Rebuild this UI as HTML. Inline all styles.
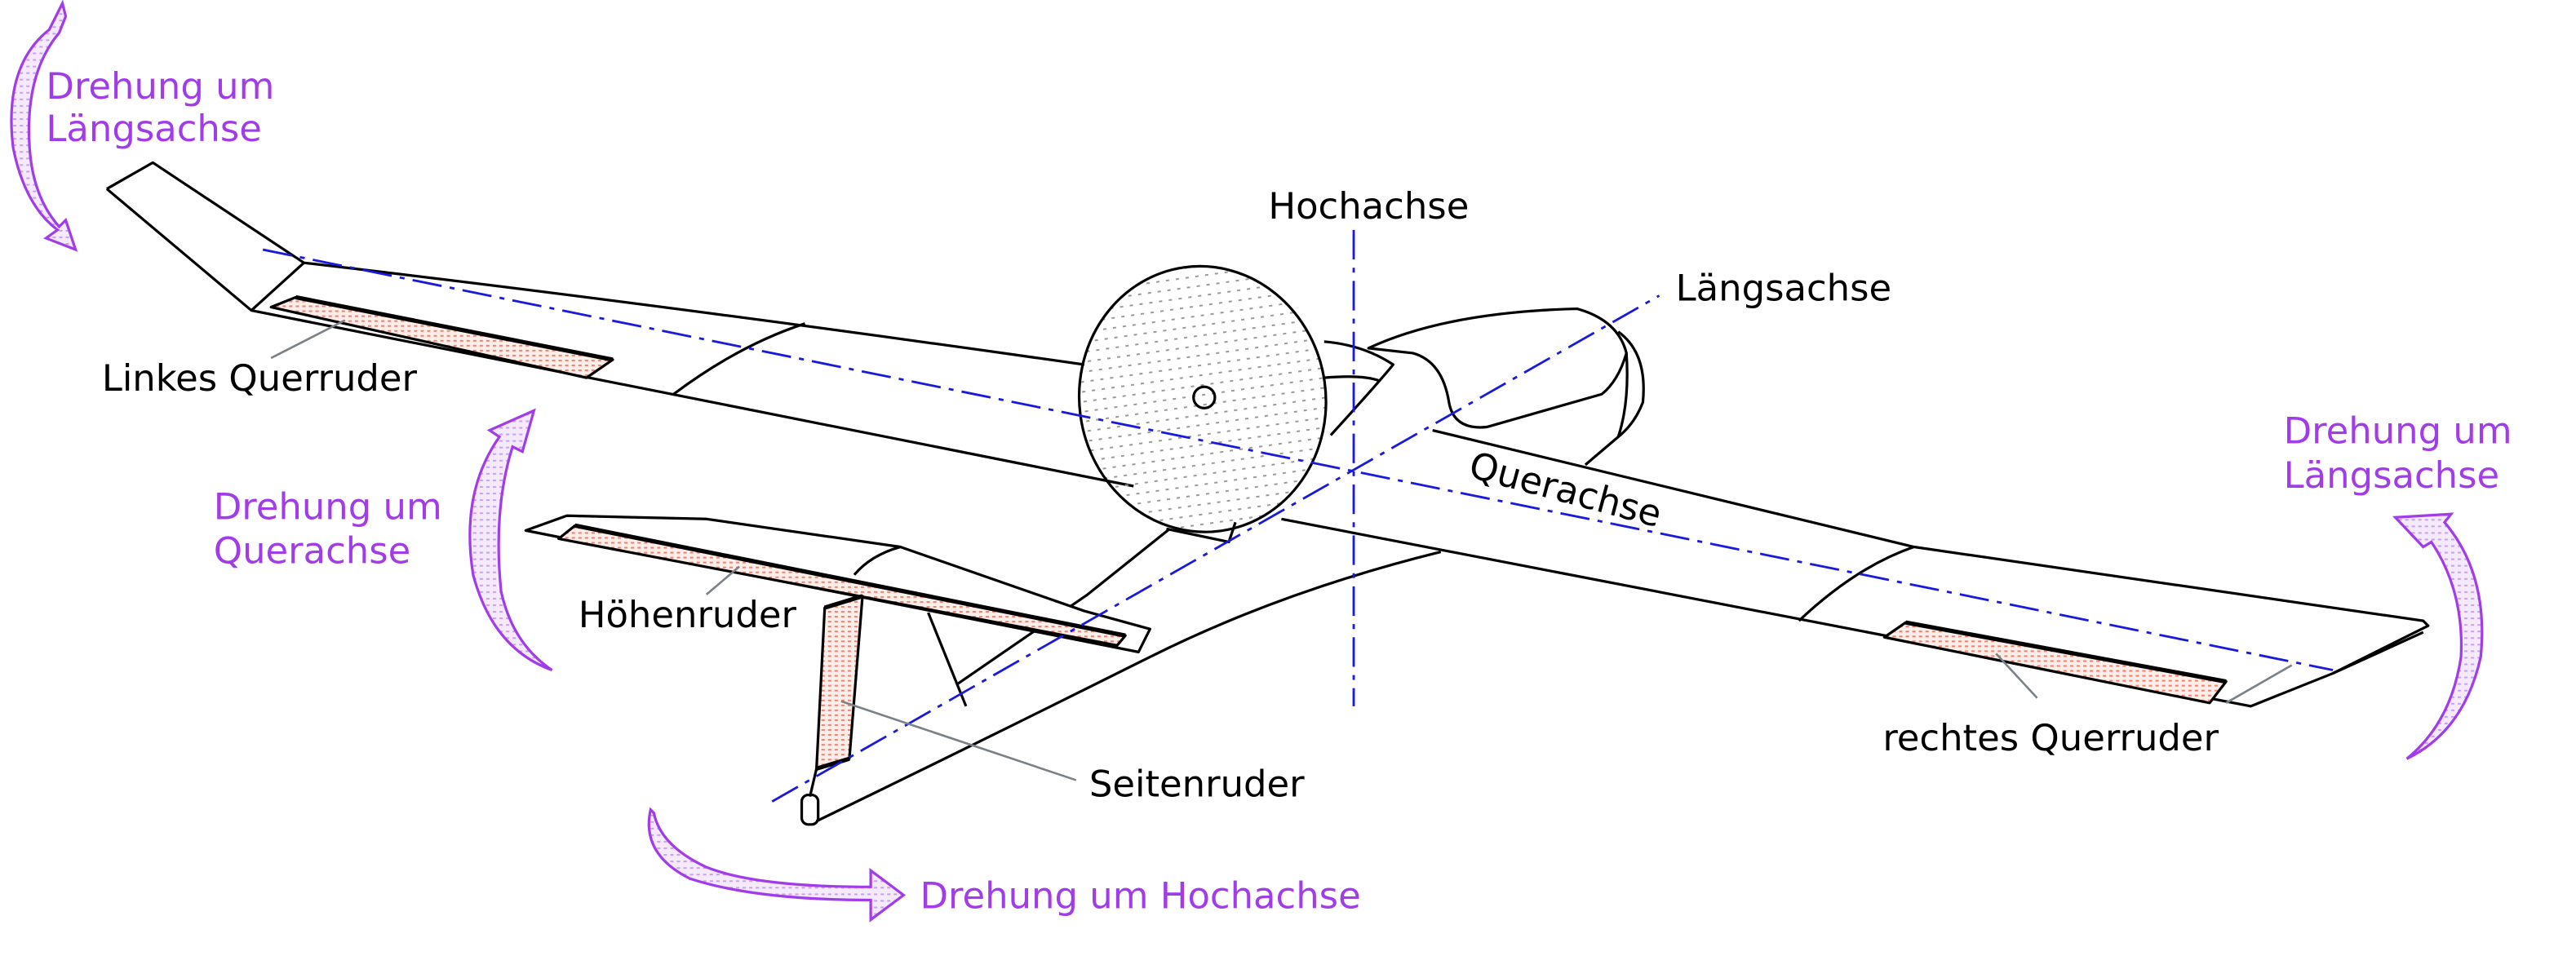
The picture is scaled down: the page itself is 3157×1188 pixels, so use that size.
<!DOCTYPE html>
<html><head><meta charset="utf-8"><style>
html,body{margin:0;padding:0;background:#fff}
svg{display:block}
text{font-family:"DejaVu Sans","Liberation Sans",sans-serif;font-size:22.3px}
.p{fill:#a03ce8}
</style></head><body>
<svg width="3157" height="1188" viewBox="0 0 1568 590" preserveAspectRatio="none" xmlns="http://www.w3.org/2000/svg">
<defs>
<pattern id="dots" width="6" height="6" patternUnits="userSpaceOnUse"><rect x="0" y="0" width="2" height="1" fill="#999"/></pattern>
<pattern id="red" width="4" height="3" patternUnits="userSpaceOnUse"><rect width="4" height="3" fill="#fdeee9"/><rect x="0" y="0" width="2" height="1" fill="#f08070"/></pattern>
<pattern id="pur" width="4" height="4" patternUnits="userSpaceOnUse"><rect width="4" height="4" fill="#f4eafc"/><rect x="0" y="0" width="2" height="1" fill="#c9a0f0"/></pattern>
</defs>
<g fill="none" stroke="#000" stroke-width="1.6" stroke-linejoin="round">
<path d="M65,115 L93,99 L185,160 Q400,185 660,222" fill="#fff"/>
<path d="M65,115 L153,189 L690,296"/>
<path d="M153,189 L185,160"/>
<path d="M410,240 Q450,210 490,197"/>
<path d="M165,187 L180,181 L373,219 L357,230 Z" fill="url(#red)"/>
<path d="M180,181 L373,219" stroke-width="2.6"/>
<path d="M872,262 L1165,333 L1475,378 L1478,381 L1420,410 L1370,430 L780,316"/>
<path d="M1095,378 Q1130,345 1165,333"/>
<path d="M1147,388 L1160,379 L1355,415 L1345,428 Z" fill="url(#red)"/>
<path d="M1160,379 L1355,415" stroke-width="2.6"/>
<path d="M1420,410 L1475,385"/>
<path d="M833,212 Q880,190 960,188 Q985,195 990,215 Q985,232 975,240 L905,260 Q885,262 882,245 Q878,220 860,215 Z"/>
<path d="M985,202 Q1003,215 1000,245 Q995,258 985,266 L965,283"/>
<path d="M990,215 Q992,245 985,266"/>
<path d="M806,208 Q830,210 848,222 Q840,232 810,265"/>
<path d="M806,230 Q830,228 840,232"/>
<path d="M497,500 Q600,450 700,400 Q780,360 877,336"/>
<path d="M582,417 L662,362 L712,322"/>
<path d="M710,322 L748,330 L752,318"/>
<path d="M320,323 L345,314 L430,316 L548,333 L660,372 L700,383 L693,397 Z" fill="#fff"/>
<path d="M340,328 L350,320 L685,387 L680,393 Z" fill="url(#red)"/>
<path d="M350,320 L685,387" stroke-width="2.6"/>
<path d="M520,350 Q530,338 548,333"/>
<path d="M497,468 L502,370 L525,363 L517,462 Z" fill="url(#red)"/>
<path d="M502,370 L525,363 M497,468 L517,462" stroke-width="2.6"/>
<path d="M565,373 L588,430"/>
<path d="M497,468 L493,485"/>
<rect x="488" y="484" width="10" height="18" rx="4"/>
<ellipse cx="732" cy="243" rx="75" ry="81" transform="rotate(-8 732 243)" fill="url(#dots)"/>
<circle cx="733" cy="242" r="6.5"/>
</g>
<g stroke="#1a1adc" stroke-width="1.4" fill="none" stroke-dasharray="18,5,3,5">
<path d="M824,140 L824,430"/>
<path d="M470,488 L1010,180"/>
<path d="M160,152 L1420,408"/>
</g>
<g stroke="#7a8288" stroke-width="1.3">
<path d="M165,218 L210,195"/><path d="M430,362 L450,345"/><path d="M512,427 L655,475"/><path d="M1240,425 L1215,398"/><path d="M1355,428 L1395,405"/>
</g>
<g stroke="#a03ce8" stroke-width="1.6" fill="url(#pur)">
<path d="M38,2 L30,18 Q2,40 8,90 Q15,125 35,140 L28,145 L46,152 L40,134 L36,138 Q20,120 18,90 Q15,45 36,20 L40,10 Z"/>
<path d="M325,250 L298,262 L304,266 Q280,300 288,350 Q300,395 336,408 Q312,392 305,360 Q300,310 312,272 L318,275 Z"/>
<path d="M1458,315 L1475,333 L1480,330 Q1500,360 1498,400 Q1492,440 1465,462 Q1500,445 1510,400 Q1515,350 1488,318 L1492,313 Z"/>
<path d="M396,493 Q390,520 420,535 Q460,548 530,548 L530,560 L550,545 L530,530 L530,540 Q460,540 430,528 Q402,515 398,495 Z"/>
</g>
<text x="772" y="133">Hochachse</text>
<text x="1020" y="183">Längsachse</text>
<text x="893" y="290" transform="rotate(15 893 290)">Querachse</text>
<text x="62" y="238">Linkes Querruder</text>
<text x="352" y="382">Höhenruder</text>
<text x="663" y="485">Seitenruder</text>
<text x="1146" y="457">rechtes Querruder</text>
<text class="p" x="28" y="60">Drehung um</text>
<text class="p" x="28" y="86">Längsachse</text>
<text class="p" x="130" y="316">Drehung um</text>
<text class="p" x="130" y="343">Querachse</text>
<text class="p" x="1390" y="270">Drehung um</text>
<text class="p" x="1390" y="297">Längsachse</text>
<text class="p" x="560" y="553">Drehung um Hochachse</text>
</svg>
</body></html>
